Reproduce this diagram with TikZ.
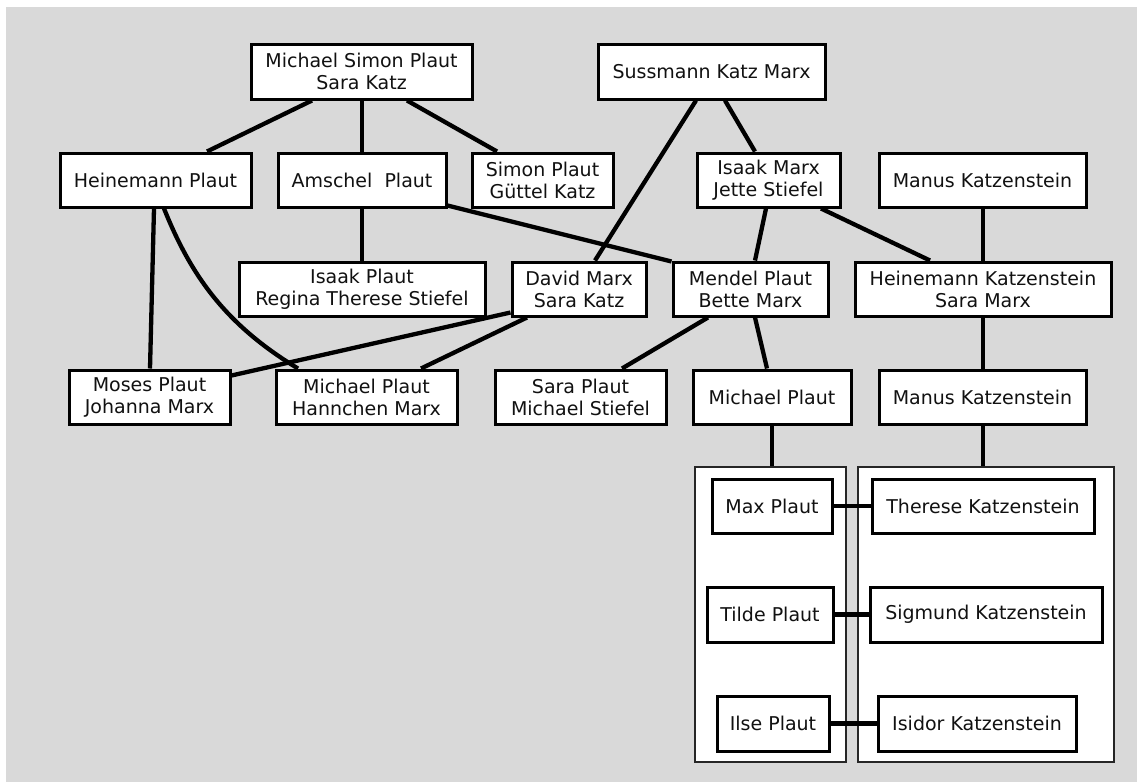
\documentclass[tikz,border=0pt]{standalone}
\usepackage{fontspec}
\setmainfont{DejaVu Sans}
\usetikzlibrary{calc}
\definecolor{bggray}{HTML}{D9D9D9}
\definecolor{textc}{HTML}{111111}
\begin{document}
\begin{tikzpicture}[x=1pt,y=-1pt,
  person/.style={draw=black, line width=3pt, fill=white, inner sep=0pt, align=center,
    text=textc, font=\fontsize{19}{22}\selectfont, minimum height=54pt},
  link/.style={line width=4.3pt, black},
  cluster/.style={draw=black!85, line width=1.3pt, fill=white, inner sep=0pt}]
\useasboundingbox (0,0) rectangle (1137,782);
\fill[bggray] (6,7) rectangle (1137,782);

% clusters
\node[cluster, minimum width=151pt, minimum height=295pt] (clL) at (770.5,614.5) {};
\node[cluster, minimum width=256pt, minimum height=295pt] (clR) at (986,614.5) {};

% persons
\node[person, minimum width=221pt, minimum height=55pt] (msp) at (361.5,71.5) {Michael Simon Plaut\\Sara Katz};
\node[person, minimum width=227pt, minimum height=55pt] (skm) at (711.5,71.5) {Sussmann Katz Marx};
\node[person, minimum width=191pt] (hp) at (155.5,180) {Heinemann Plaut};
\node[person, minimum width=168pt] (ap) at (362,180) {Amschel\ \ Plaut};
\node[person, minimum width=141pt] (sp) at (542.5,180) {Simon Plaut\\Güttel Katz};
\node[person, minimum width=143pt] (im) at (768.5,180) {Isaak Marx\\Jette Stiefel};
\node[person, minimum width=207pt] (mk1) at (982.5,180) {Manus Katzenstein};
\node[person, minimum width=246pt] (ip) at (362,289) {Isaak Plaut\\Regina Therese Stiefel};
\node[person, minimum width=134pt] (dm) at (579,289) {David Marx\\Sara Katz};
\node[person, minimum width=155pt] (mp) at (750.5,289) {Mendel Plaut\\Bette Marx};
\node[person, minimum width=256pt] (hk) at (983,289) {Heinemann Katzenstein\\Sara Marx};
\node[person, minimum width=161pt] (mo) at (149.5,397) {Moses Plaut\\Johanna Marx};
\node[person, minimum width=181pt] (mh) at (366.5,397) {Michael Plaut\\Hannchen Marx};
\node[person, minimum width=171pt] (sap) at (580.5,397) {Sara Plaut\\Michael Stiefel};
\node[person, minimum width=158pt] (mip) at (772,397) {Michael Plaut};
\node[person, minimum width=207pt] (mk2) at (982.5,397) {Manus Katzenstein};
\node[person, minimum width=120pt] (max) at (772,506) {Max Plaut};
\node[person, minimum width=222pt] (th) at (983,506) {Therese Katzenstein};
\node[person, minimum width=126pt, minimum height=55pt] (ti) at (770,614.5) {Tilde Plaut};
\node[person, minimum width=232pt, minimum height=55pt] (sig) at (986,614.5) {Sigmund Katzenstein};
\node[person, minimum width=112pt, minimum height=55pt] (ilse) at (773,723.5) {Ilse Plaut};
\node[person, minimum width=198pt, minimum height=55pt] (isi) at (977,723.5) {Isidor Katzenstein};

% connectors
\draw[link] ([xshift=-49.5pt]msp.south) -- ([xshift=51.5pt]hp.north);
\draw[link] ([xshift=0.5pt]msp.south) -- (ap.north);
\draw[link] ([xshift=45.5pt]msp.south) -- ([xshift=-45.5pt]sp.north);
\draw[link] ([xshift=-15.5pt]skm.south) -- ([xshift=16pt]dm.north);
\draw[link] ([xshift=13.5pt]skm.south) -- ([xshift=-13.5pt]im.north);
\draw[link] ([xshift=-1.5pt]hp.south) -- ([xshift=0.5pt]mo.north);
\draw[link] ([xshift=8.5pt]hp.south) .. controls (191,276) and (226,325) .. ([xshift=-68.5pt]mh.north);
\draw[link] (ap.south) -- (ip.north);
\draw[link] ([yshift=3pt]ap.south east) -- ([yshift=-1pt]mp.north west);
\draw[link] ([xshift=-2.5pt]im.south) -- ([xshift=4.5pt]mp.north);
\draw[link] ([xshift=52.5pt]im.south) -- ([xshift=-53pt]hk.north);
\draw[link] ([xshift=0.5pt]mk1.south) -- (hk.north);
\draw[link] ([yshift=5pt]dm.south west) -- ([yshift=-7pt]mo.north east);
\draw[link] ([xshift=-52pt]dm.south) -- ([xshift=54.5pt]mh.north);
\draw[link] ([xshift=-42.5pt]mp.south) -- ([xshift=41.5pt]sap.north);
\draw[link] ([xshift=4.5pt]mp.south) -- ([xshift=-5pt]mip.north);
\draw[link] (hk.south) -- ([xshift=0.5pt]mk2.north);
\draw[link] (mip.south) -- (mip.south |- clL.north);
\draw[link] ([xshift=0.5pt]mk2.south) -- ([xshift=0.5pt]mk2.south |- clR.north);
\draw[link] (max.east) -- (th.west);
\draw[link] (ti.east) -- (sig.west);
\draw[link] (ilse.east) -- (isi.west);
\end{tikzpicture}
\end{document}
